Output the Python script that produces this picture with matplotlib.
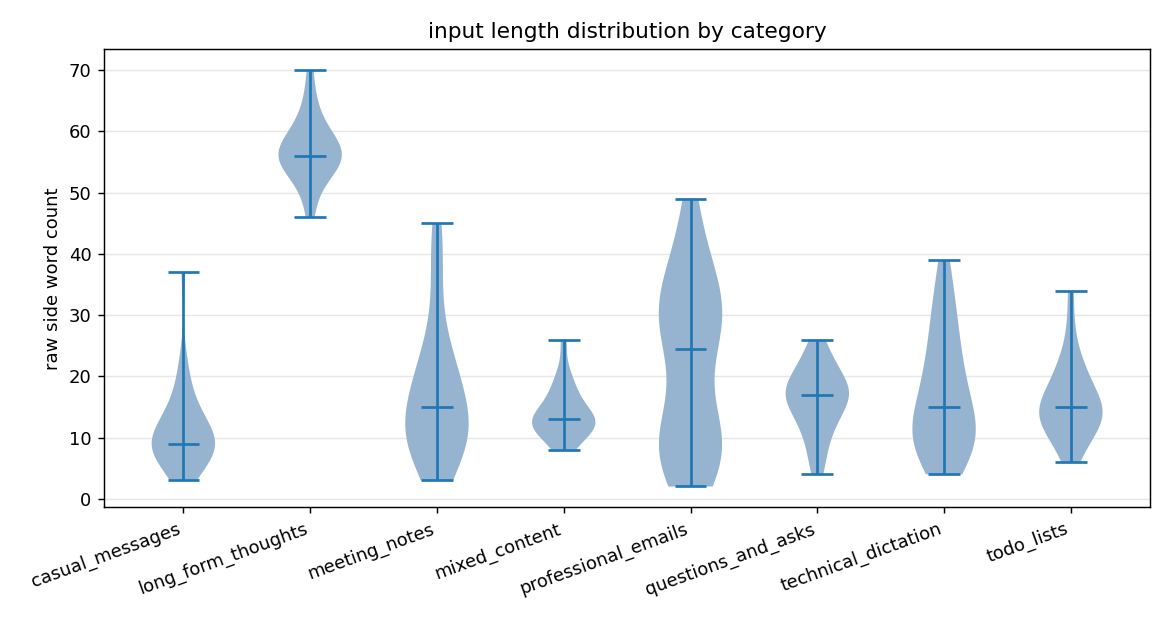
import matplotlib
matplotlib.use("Agg")
import matplotlib.pyplot as plt

# --- word counts per category ---
categories = ["casual_messages", "long_form_thoughts", "meeting_notes", "mixed_content",
              "professional_emails", "questions_and_asks", "technical_dictation", "todo_lists"]

casual_messages = [3, 4, 5, 6, 6, 7, 7, 8, 8, 8, 9, 9, 9, 9, 9, 10, 10, 11, 11, 12,
                   13, 13, 14, 15, 16, 18, 20, 23, 37]
long_form_thoughts = [46, 49, 51, 52, 53, 54, 54, 55, 55, 55, 56, 56, 56, 57, 57, 58, 58,
                      59, 59, 60, 61, 62, 64, 66, 70]
meeting_notes = [3, 4, 5, 6, 7, 8, 9, 10, 10, 11, 11, 12, 12, 12, 13, 15, 15, 16, 17, 18,
                 19, 20, 21, 22, 23, 25, 28, 33, 38, 42, 45]
mixed_content = [8, 9, 10, 11, 11, 12, 12, 12, 12, 13, 13, 13, 14, 14, 15, 16, 17, 18, 19,
                 21, 26]
professional_emails = [2, 4, 5, 6, 7, 8, 8, 9, 9, 10, 11, 12, 15, 20, 24, 25, 27, 28, 29,
                       30, 30, 31, 32, 33, 34, 36, 38, 41, 44, 49]
questions_and_asks = [4, 6, 8, 10, 11, 12, 13, 14, 15, 15, 16, 16, 17, 17, 18, 18, 18, 19,
                      19, 20, 21, 22, 23, 24, 26]
technical_dictation = [4, 5, 6, 7, 8, 9, 10, 10, 11, 11, 12, 12, 13, 15, 16, 17, 18, 20, 21,
                       22, 24, 26, 28, 30, 32, 35, 39]
todo_lists = [6, 8, 9, 10, 11, 12, 12, 13, 13, 14, 14, 14, 15, 15, 16, 16, 17, 18, 19, 20,
              21, 22, 24, 28, 34]

data = [casual_messages, long_form_thoughts, meeting_notes, mixed_content,
        professional_emails, questions_and_asks, technical_dictation, todo_lists]

fig, ax = plt.subplots(figsize=(9, 4.8), dpi=130)
fig.subplots_adjust(left=0.089, right=0.983, top=0.921, bottom=0.187)

vp = ax.violinplot(data, showmedians=True)
for body in vp["bodies"]:
    body.set_facecolor("#96b4d0")
    body.set_edgecolor("none")
    body.set_alpha(1)

ax.set_xticks(range(1, len(categories) + 1))
ax.set_xticklabels(categories, rotation=20, ha="right")
ax.set_ylabel("raw side word count")
ax.set_title("input length distribution by category")
ax.grid(axis="y", alpha=0.3)
ax.set_axisbelow(True)

fig.savefig("out.png")
